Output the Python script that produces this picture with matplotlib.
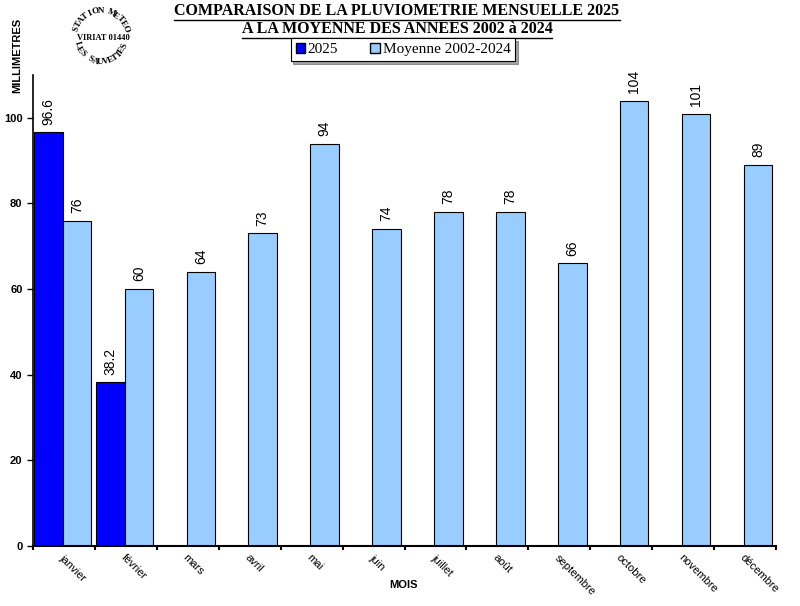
import numpy as np
import matplotlib
matplotlib.use('Agg')
import matplotlib.pyplot as plt
from matplotlib.patches import Patch

months = ['janvier', 'février', 'mars', 'avril', 'mai', 'juin', 'juillet',
          'août', 'septembre', 'octobre', 'novembre', 'décembre']
rain_2025 = [96.6, 38.2]
rain_avg = [76, 60, 64, 73, 94, 74, 78, 78, 66, 104, 101, 89]

c2025 = '#0000FF'
cavg = '#99CCFF'
W, H = 800, 606

plt.rcParams['font.family'] = ['Liberation Sans', 'DejaVu Sans']
fig = plt.figure(figsize=(W / 100, H / 100), dpi=100)
ax = fig.add_axes([33 / W, 1 - 546 / H, (776 - 33) / W, (546 - 75) / H])

x = np.arange(len(months))
b1 = ax.bar(x[:len(rain_2025)] + 0.02, rain_2025, width=0.46, align='edge',
            color=c2025, edgecolor='black', linewidth=0.8)
b2 = ax.bar(x + 0.48, rain_avg, width=0.46, align='edge',
            color=cavg, edgecolor='black', linewidth=0.8)

for bars, vals in ((b1, rain_2025), (b2, rain_avg)):
    for r, v in zip(bars, vals):
        lab = f'{v:g}' if isinstance(v, float) else str(v)
        ax.text(r.get_x() + r.get_width() / 2, v + 1.8, lab, rotation=90,
                ha='center', va='bottom', fontsize=10)

ax.set_xlim(0, 12)
ax.set_ylim(0, 110)
ax.set_yticks(range(0, 101, 20))
ax.set_yticklabels([str(v) for v in range(0, 101, 20)], fontsize=8, fontweight='bold')
ax.set_xticks(range(13))
ax.set_xticklabels([])
ax.tick_params(axis='both', direction='out', length=4, width=1)
ax.tick_params(axis='x', length=3, width=1.5)
for s in ('top', 'right'):
    ax.spines[s].set_visible(False)
ax.spines['left'].set_linewidth(1.2)
ax.spines['bottom'].set_linewidth(1.5)

for i, m in enumerate(months):
    ax.text(i + 0.45, -2.4, m, rotation=-45, rotation_mode='anchor',
            ha='left', va='center', fontsize=8)

fig.text(403 / W, 1 - 585 / H, 'MOIS', ha='center', va='center',
         fontsize=8, fontweight='bold')
fig.text(17 / W, 1 - 55 / H, 'MILLIMETRES', rotation=90, ha='center',
         va='center', fontsize=8, fontweight='bold')

# titre souligne
titles = ['COMPARAISON DE LA PLUVIOMETRIE MENSUELLE 2025',
          'A LA MOYENNE DES ANNEES 2002 à 2024']
tobjs = []
for k, t in enumerate(titles):
    tobjs.append(fig.text(397 / W, 1 - (11 + 18 * k) / H, t, ha='center',
                          va='center', fontsize=11.5, fontweight='bold',
                          family='Liberation Serif'))

leg = fig.legend(handles=[Patch(facecolor=c2025, edgecolor='black', label='2025'),
                          Patch(facecolor=cavg, edgecolor='black',
                                label='Moyenne 2002-2024')],
                 loc='center', bbox_to_anchor=(403 / W, 1 - 49.5 / H), ncol=2,
                 fancybox=False, shadow=True, edgecolor='black', framealpha=1,
                 prop={'family': 'Liberation Serif', 'size': 11},
                 handlelength=0.6, handleheight=0.6, handletextpad=0.2,
                 columnspacing=2.1, borderpad=0.2, borderaxespad=0)
leg.get_frame().set_linewidth(0.8)
leg._legend_box.sep = 0
leg._legend_box.pad = 3.5

# tampon station
cx, cy, rad = 101, 37, 26
def px(xp, yp):
    return xp / W, 1 - yp / H

top = 'STATION METEO'
angs = np.linspace(163, 19, len(top))
for ch, a in zip(top, angs):
    r = np.radians(a)
    fig.text(*px(cx + rad * np.cos(r), cy - rad * np.sin(r)), ch,
             rotation=a - 90, ha='center', va='center', fontsize=6.5,
             fontweight='bold', family='Liberation Serif')
bot = 'LES SAUVETTES'
angs = np.linspace(198, 340, len(bot))
for ch, a in zip(bot, angs):
    r = np.radians(a)
    fig.text(*px(cx + (rad - 1) * np.cos(r), cy - (rad - 1) * np.sin(r)), ch,
             rotation=a + 90, ha='center', va='center', fontsize=6.5,
             fontweight='bold', family='Liberation Serif')
fig.text(*px(cx + 2, cy + 1), 'VIRIAT 01440', ha='center', va='center',
         fontsize=6, fontweight='bold', family='Liberation Serif')

fig.canvas.draw()
rend = fig.canvas.get_renderer()
inv = fig.transFigure.inverted()
for t in tobjs:
    bb = t.get_window_extent(rend).transformed(inv)
    y = bb.y0 - 1.0 / H
    fig.add_artist(plt.Line2D([bb.x0, bb.x1], [y, y], color='black',
                              linewidth=1, transform=fig.transFigure))

fig.savefig('out.png', dpi=100)
